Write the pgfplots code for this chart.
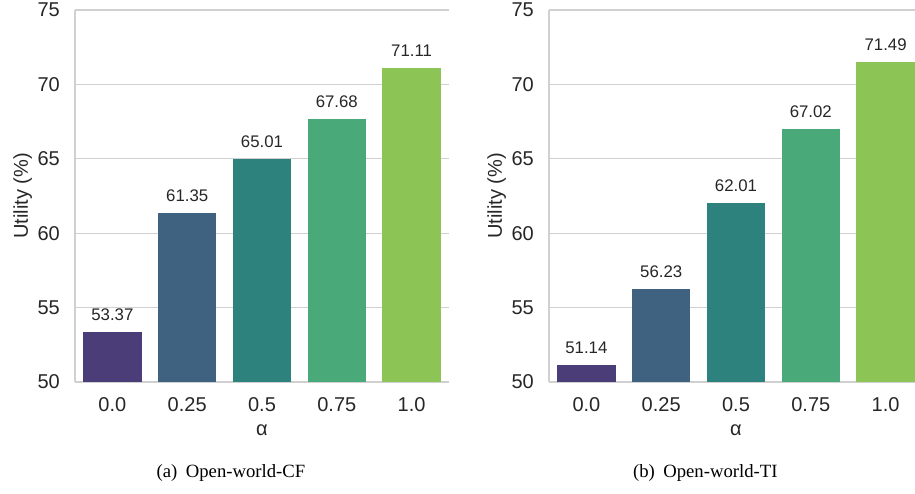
\documentclass[border=0pt]{standalone}
\usepackage{fontspec}
\setmainfont{Liberation Sans}
\newfontfamily\capfont{Liberation Serif}
\usepackage{pgfplots}
\pgfplotsset{compat=1.18}
\definecolor{c0}{HTML}{4B3D78}
\definecolor{c1}{HTML}{3F6281}
\definecolor{c2}{HTML}{2E827D}
\definecolor{c3}{HTML}{49A978}
\definecolor{c4}{HTML}{8DC456}
\definecolor{gridc}{HTML}{D0D0D0}
\definecolor{txt}{HTML}{262626}
\pgfplotsset{
  myaxis/.style={
    scale only axis, width=374pt, height=372pt,
    anchor=south west,
    xmin=-0.5, xmax=4.5, ymin=50, ymax=75,
    ytick={50,55,60,65,70,75},
    xtick={0,1,2,3,4},
    xticklabels={0.0,0.25,0.5,0.75,1.0},
    /pgf/number format/assume math mode=true,
    separate axis lines,
    axis x line*=bottom, axis y line*=left,
    x axis line style={-, draw=gridc, line width=1.8pt},
    y axis line style={-, draw=gridc, line width=1.8pt},
    ymajorgrids, grid style={draw=gridc, line width=1.3pt},
    major tick length=0pt,
    tick label style={font=\fontsize{20}{24}\selectfont, text=txt, inner sep=0pt},
    yticklabel style={anchor=east, xshift=-15pt},
    xticklabel style={anchor=north, yshift=-15pt},
    every axis x label/.style={at={(axis description cs:0.5,0)}, anchor=base, yshift=-53pt, inner sep=0pt, font=\fontsize{20}{24}\selectfont, text=txt},
    every axis y label/.style={at={(axis description cs:-0.1257,0.5)}, rotate=90, anchor=base, inner sep=0pt, font=\fontsize{20}{24}\selectfont, text=txt},
    xlabel={α}, ylabel={Utility (\%)},
    ybar, bar width=0.78, bar shift=0pt,
    nodes near coords={\pgfmathprintnumber[fixed,precision=2,fixed zerofill]{\pgfplotspointmeta}},
    every node near coord/.append style={anchor=base, yshift=11.3pt, inner sep=0pt, font=\fontsize{16.8}{20}\selectfont, text=txt},
  }
}
\begin{document}
\begin{tikzpicture}
\useasboundingbox (0pt,0pt) rectangle (915pt,493pt);
\begin{axis}[myaxis, at={(75pt,111pt)}]
\addplot[fill=c0, draw=none] coordinates {(0,53.37)};
\addplot[fill=c1, draw=none] coordinates {(1,61.35)};
\addplot[fill=c2, draw=none] coordinates {(2,65.01)};
\addplot[fill=c3, draw=none] coordinates {(3,67.68)};
\addplot[fill=c4, draw=none] coordinates {(4,71.11)};
\end{axis}
\begin{axis}[myaxis, at={(549pt,111pt)}]
\addplot[fill=c0, draw=none] coordinates {(0,51.14)};
\addplot[fill=c1, draw=none] coordinates {(1,56.23)};
\addplot[fill=c2, draw=none] coordinates {(2,62.01)};
\addplot[fill=c3, draw=none] coordinates {(3,67.02)};
\addplot[fill=c4, draw=none] coordinates {(4,71.49)};
\end{axis}
\node[anchor=base, inner sep=0pt, font=\capfont\fontsize{18.7}{22}\selectfont] at (231pt,16pt) {(a)\hspace{0.45em}Open-world-CF};
\node[anchor=base, inner sep=0pt, font=\capfont\fontsize{18.7}{22}\selectfont] at (705.3pt,16pt) {(b)\hspace{0.45em}Open-world-TI};
\end{tikzpicture}
\end{document}
